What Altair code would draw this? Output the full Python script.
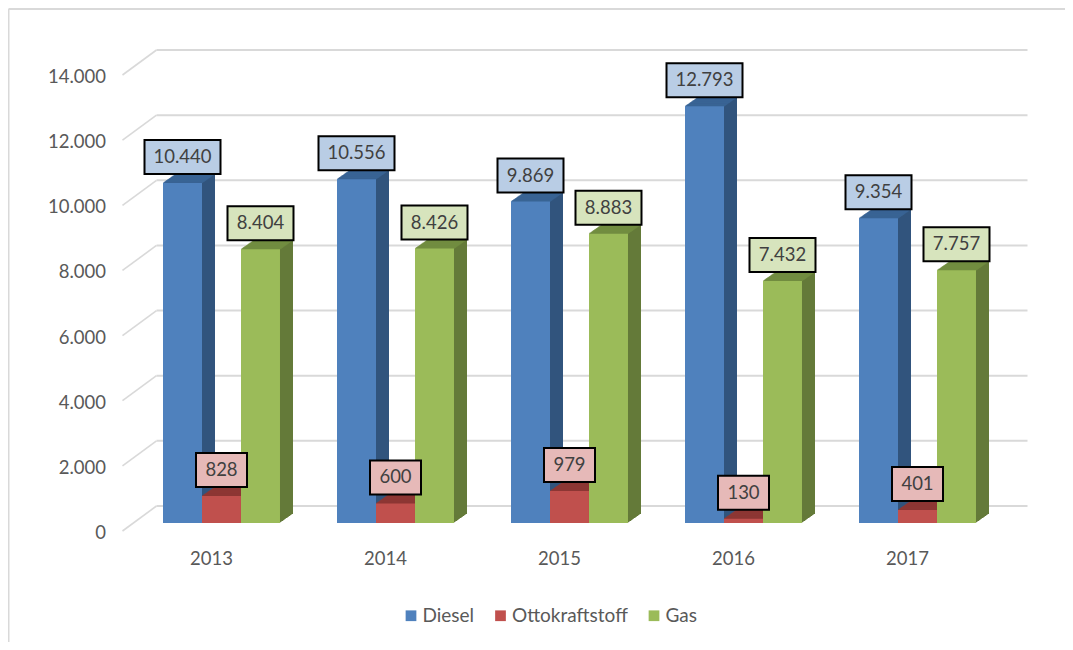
import altair as alt
import pandas as pd

years = ["2013", "2014", "2015", "2016", "2017"]
series = ["Diesel", "Ottokraftstoff", "Gas"]
diesel = [10440, 10556, 9869, 12793, 9354]
otto = [828, 600, 979, 130, 401]
gas = [8404, 8426, 8883, 7432, 7757]
ticks = [0, 2000, 4000, 6000, 8000, 10000, 12000, 14000]

front = ["#4F81BD", "#C0504D", "#9BBB59"]
side = ["#31547D", "#7F3230", "#647A39"]
top = ["#3B6597", "#8F3735", "#748E42"]
box = ["#B9CDE5", "#E6B9B8", "#D7E4BD"]

FONT = "Lato"
FS = 18.5
DEPTH = 13
RATIO = 0.7
BAR = 39

rows = []
for s, vals in zip(series, [diesel, otto, gas]):
    for y, v in zip(years, vals):
        rows.append({"year": y, "series": s, "value": v, "base": 0, "label": f"{v:,}".replace(",", ".")})
df = pd.DataFrame(rows)
tick_df = pd.DataFrame({"v": ticks})

yscale = alt.Scale(domain=[0, 14000], nice=False)
xscale = alt.Scale(paddingInner=0, paddingOuter=0)
xaxis = alt.Axis(labelAngle=0, ticks=False, domain=False, grid=False, labelOffset=-10, labelPadding=26,
                 labelFont=FONT, labelFontSize=FS, labelColor="#595959")
x = alt.X("year:N", title=None, scale=xscale, sort=years, axis=xaxis)
y = alt.Y("value:Q", title=None, scale=yscale, stack=None,
          axis=alt.Axis(values=ticks, ticks=False, domain=False, grid=False, labelPadding=29, labelOffset=9.5,
                        labelExpr="replace(format(datum.value, ','), ',', '.')",
                        labelFont=FONT, labelFontSize=FS, labelColor="#595959"))
xo = alt.XOffset("series:N", sort=series, scale=alt.Scale(domain=series, paddingInner=0, paddingOuter=0.7308))

layers = []
layers.append(alt.Chart(tick_df.head(1)).mark_rule(color="#D9D9D9", strokeWidth=2).encode(
    x=alt.value(-126), x2=alt.value(940), y=alt.value(-58)))
layers.append(alt.Chart(tick_df.head(1)).mark_rule(color="#D9D9D9", strokeWidth=2).encode(
    x=alt.value(-126), y=alt.value(-58), y2=alt.value(580)))
yt = alt.Y("v:Q", title=None, scale=yscale)
layers.append(alt.Chart(tick_df).mark_rule(color="#D9D9D9", strokeWidth=2, yOffset=-17).encode(
    x=alt.value(22), x2=alt.value(893), y=yt))
layers.append(alt.Chart(tick_df).mark_rule(color="#D9D9D9", strokeWidth=1.6, yOffset=8, y2Offset=-17).encode(
    x=alt.value(-12), x2=alt.value(22), y=yt, y2=alt.Y2("v:Q")))

for i, s in enumerate(series):
    sub = df[df.series == s]
    shift = (i - 1) * BAR
    for k in range(1, DEPTH + 1):
        layers.append(alt.Chart(sub).mark_bar(color=side[i], size=BAR, xOffset=shift + k, yOffset=-k * RATIO, y2Offset=-k * RATIO).encode(
            x=x, y=y, y2=alt.Y2("base:Q")))
    for k in range(0, DEPTH + 1):
        layers.append(alt.Chart(sub).mark_tick(color=top[i], orient="horizontal", thickness=1.6, size=BAR, xOffset=shift + k, yOffset=-k * RATIO).encode(
            x=x, y=y))

layers.append(alt.Chart(df).mark_bar().encode(
    x=x, xOffset=xo, y=y,
    color=alt.Color("series:N", sort=series, scale=alt.Scale(domain=series, range=front),
                    legend=alt.Legend(title=None, orient="none", legendX=267, legendY=539, direction="horizontal",
                                      symbolType="square", symbolSize=115, symbolStrokeWidth=0,
                                      labelFont=FONT, labelFontSize=19, labelColor="#595959",
                                      columnPadding=16.5, labelOffset=2))))

for i, s in enumerate(series):
    sub = df[df.series == s]
    for n, w in [(6, 76), (5, 66), (3, 51)]:
        part = sub[sub.label.str.len() == n]
        if part.empty:
            continue
        layers.append(alt.Chart(part).mark_rect(width=w, height=34, fill=box[i], stroke="#000000", strokeWidth=2, yOffset=-26).encode(
            x=x, xOffset=xo, y=y))
layers.append(alt.Chart(df).mark_text(font=FONT, fontSize=FS, color="#404040", yOffset=-26, baseline="middle", align="center").encode(
    x=x, xOffset=xo, y=y, text="label:N"))

chart = alt.layer(*layers).properties(
    width=870, height=456,
    autosize=alt.AutoSizeParams(type="none"),
    padding={"left": 126.5, "top": 59, "right": 60.5, "bottom": 119},
).configure_view(stroke=None)

chart.save("out.html", embed_options={"renderer": "svg", "actions": False})
